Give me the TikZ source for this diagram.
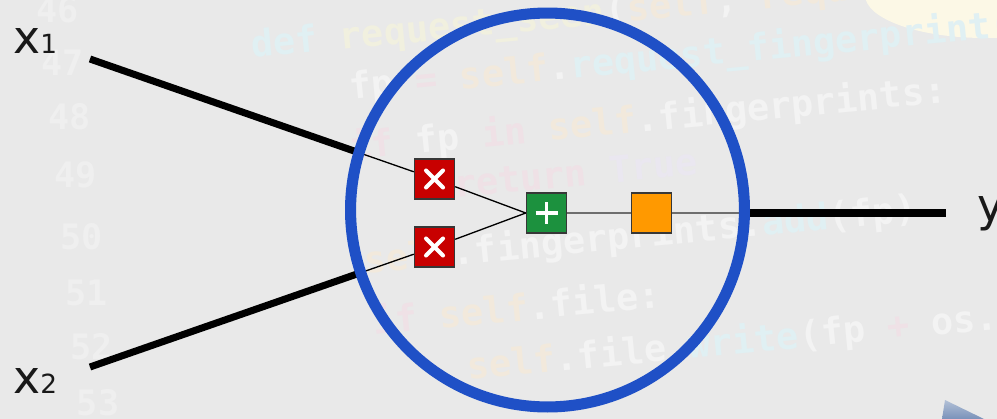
\documentclass[tikz,border=0pt]{standalone}
\usepackage{fontspec}
\usetikzlibrary{calc}
\newfontfamily\lblfont{DejaVu Sans}
\newfontfamily\codefont{DejaVu Sans Mono}

% palette
\definecolor{bggray}{HTML}{E9E9E9}
\definecolor{blobyel}{HTML}{FCF8E6}
\definecolor{ringblue}{RGB}{31,80,198}
\definecolor{mulred}{RGB}{200,0,0}
\definecolor{addgreen}{RGB}{28,145,62}
\definecolor{actorange}{RGB}{255,153,0}
\definecolor{boxedge}{RGB}{55,55,55}
\definecolor{linkgray}{RGB}{110,110,110}
\definecolor{labelink}{RGB}{25,25,25}
% faint code colours
\definecolor{cwh}{HTML}{F3F3F3}
\definecolor{cnum}{HTML}{EFEFEF}
\definecolor{ccy}{HTML}{E0F0F3}
\definecolor{cye}{HTML}{F1F0DF}
\definecolor{cpe}{HTML}{F2E9DC}
\definecolor{cpk}{HTML}{EFE1E6}
\definecolor{clv}{HTML}{EAE7F0}
\newcommand\ctok[2]{\textcolor{#1}{#2}}

\tikzset{
  codeline/.style={anchor=base west, inner sep=0, rotate=5.5,
    font=\codefont\bfseries\fontsize{21}{21}\selectfont},
  lineno/.style={inner sep=0, text=cnum,
    font=\codefont\bfseries\fontsize{20}{20}\selectfont},
  lbl/.style={anchor=base west, inner sep=0, text=labelink,
    font=\lblfont\fontsize{26}{26}\selectfont},
  opbox/.style={draw=boxedge, line width=0.85pt, minimum size=0.8cm, inner sep=0},
  mulbox/.style={opbox, fill=mulred, path picture={
      \draw[white, line width=2.3pt, line cap=round]
        ($(path picture bounding box.center)+(-0.17cm,-0.17cm)$) -- ++(0.34cm,0.34cm)
        ($(path picture bounding box.center)+(-0.17cm,0.17cm)$) -- ++(0.34cm,-0.34cm);}},
  addbox/.style={opbox, fill=addgreen, path picture={
      \draw[white, line width=2pt]
        ($(path picture bounding box.center)+(-0.22cm,0)$) -- ++(0.44cm,0)
        ($(path picture bounding box.center)+(0,-0.22cm)$) -- ++(0,0.44cm);}},
  actbox/.style={opbox, fill=actorange},
  inwire/.style={line width=0.75pt, black},
  thickwire/.style={line width=4pt, black},
  graywire/.style={line width=1.1pt, linkgray},
  ring/.style={line width=6.3pt, ringblue}
}

\begin{document}
\begin{tikzpicture}[x=0.02cm, y=-0.02cm]
  % canvas
  \fill[bggray] (0,0) rectangle (997,419);
  \useasboundingbox (0,0) rectangle (997,419);

  % pale shapes at the corners
  \fill[blobyel] (985,-5) ellipse [x radius=2.4cm, y radius=0.86cm];
  \shade[top color={rgb,255:red,178;green,192;blue,214},
         bottom color={rgb,255:red,122;green,146;blue,186}]
    (945,400) -- (984,419) -- (942,419) -- cycle;

  % faint source code behind the neuron
  \foreach \n/\px/\py in {46/58/10, 47/63/63, 48/70/117, 49/76/175,
                          50/82/237, 51/87/293, 52/92/347, 53/98/403}
    \node[lineno] (ln\n) at (\px,\py) {\n};
  \node[codeline] (c1) at (252,58)
    {\ctok{ccy}{def} \ctok{cye}{request\_seen}\ctok{cwh}{(}\ctok{cpe}{self}\ctok{cwh}{, }\ctok{cpe}{request}\ctok{cwh}{):}};
  \node[codeline] (c2) at (350,100)
    {\ctok{cwh}{fp} \ctok{cpk}{=} \ctok{cpe}{self}\ctok{cwh}{.}\ctok{ccy}{request\_fingerprint}\ctok{cwh}{(request)}};
  \node[codeline] (c3) at (350,160)
    {\ctok{cpk}{if} \ctok{cwh}{fp} \ctok{cpk}{in} \ctok{cpe}{self}\ctok{cwh}{.fingerprints:}};
  \node[codeline] (c4) at (455,198)
    {\ctok{cpk}{return} \ctok{clv}{True}};
  \node[codeline] (c5) at (365,274)
    {\ctok{cpe}{self}\ctok{cwh}{.fingerprints.}\ctok{ccy}{add}\ctok{cwh}{(fp)}};
  \node[codeline] (c6) at (374,335)
    {\ctok{cpk}{if} \ctok{cpe}{self}\ctok{cwh}{.file:}};
  \node[codeline] (c7) at (468,380)
    {\ctok{cpe}{self}\ctok{cwh}{.file.}\ctok{ccy}{write}\ctok{cwh}{(fp} \ctok{cpk}{+} \ctok{cwh}{os.linesep)}};

  % operation boxes
  \node[mulbox] (m1) at (434.5,179) {};
  \node[mulbox] (m2) at (434.5,247) {};
  \node[addbox] (g)  at (546.5,213) {};
  \node[actbox] (o)  at (651.5,213) {};

  % input and output end points
  \coordinate (s1) at (90,59);
  \coordinate (s2) at (90,367);
  \coordinate (rE) at (746,213);
  \coordinate (yend) at (946,213);

  % wires
  \draw[inwire] (s1) -- (m1);
  \draw[inwire] (s2) -- (m2);
  \draw[thickwire] (s1) -- ($(s1)!0.775!(m1.center)$);
  \draw[thickwire] (s2) -- ($(s2)!0.775!(m2.center)$);
  \draw[inwire] (m1) -- (g.west);
  \draw[inwire] (m2) -- (g.west);
  \draw[graywire] (g) -- (o);
  \draw[graywire] (o) -- (rE);
  \draw[thickwire] (rE) -- (yend);

  % neuron outline
  \draw[ring] (547.5,210) circle [radius=3.94cm];

  % labels
  \node[lbl] (x1) at (13,53) {x{\fontsize{15}{15}\selectfont 1}};
  \node[lbl] (x2) at (13,393) {x{\fontsize{15}{15}\selectfont 2}};
  \node[lbl] (y)  at (977,221) {y};
\end{tikzpicture}
\end{document}
